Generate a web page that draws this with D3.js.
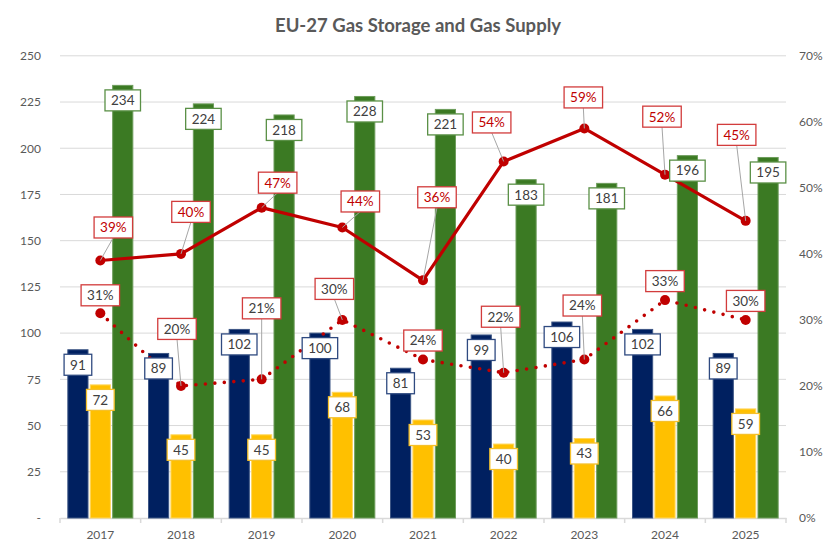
<!DOCTYPE html>
<html>
<head>
<meta charset="utf-8">
<script src="https://cdn.jsdelivr.net/npm/d3@7"></script>
<style>
  body { margin: 0; background: #fff; }
  svg { display: block; font-family: Lato, "Open Sans", sans-serif; }
</style>
</head>
<body>
<div id="chart"></div>
<script>
// values
var years = ["2017","2018","2019","2020","2021","2022","2023","2024","2025"];
var storageBlue = [91, 89, 102, 100, 81, 99, 106, 102, 89];
var storageYellow = [72, 45, 45, 68, 53, 40, 43, 66, 59];
var supplyGreen = [234, 224, 218, 228, 221, 183, 181, 196, 195];
var pctSolid = [39, 40, 47, 44, 36, 54, 59, 52, 45];
var pctDotted = [31, 20, 21, 30, 24, 22, 24, 33, 30];
var leftTicks = [0, 25, 50, 75, 100, 125, 150, 175, 200, 225, 250];
var rightTicks = [0, 10, 20, 30, 40, 50, 60, 70];

// where the % callouts sit relative to their point (layout only)
var solidLabelShift = [[13,-33],[10,-42],[16,-25],[18,-26],[14,-83],[-12,-39],[-1,-31],[-3,-58],[-9,-86]];
var dottedLabelShift = [[0,-18],[-4,-57],[0,-71],[-8,-31],[0,-19],[-3,-56],[-2,-54],[0,-19],[0,-19]];

var width = 829, height = 553;
var plotLeft = 60, plotRight = 786, plotTop = 55.8, plotBottom = 518;

var svg = d3.select("#chart").append("svg")
    .attr("width", width)
    .attr("height", height);

svg.append("text")
    .attr("x", 418).attr("y", 32)
    .attr("text-anchor", "middle")
    .style("font-size", "18.5px").style("font-weight", "bold")
    .style("fill", "#595959")
    .text("EU-27 Gas Storage and Gas Supply");

var x = d3.scaleBand().domain(years).range([plotLeft, plotRight]).paddingInner(0).paddingOuter(0);
var inner = d3.scaleBand().domain([0, 1, 2]).range([-32.5, 32.5]).paddingInner(0.1);
var y = d3.scaleLinear().domain([0, 250]).range([plotBottom, plotTop]);
var yp = d3.scaleLinear().domain([0, 70]).range([plotBottom, plotTop]);

function cx(d, i) { return x(years[i]) + x.bandwidth() / 2; }

// gridlines
svg.append("g").selectAll("line")
    .data(leftTicks.slice(1))
  .enter().append("line")
    .attr("x1", plotLeft).attr("x2", plotRight)
    .attr("y1", function(d) { return y(d); })
    .attr("y2", function(d) { return y(d); })
    .attr("stroke", "#d9d9d9").attr("stroke-width", 1);

// left axis
var gl = svg.append("g")
    .attr("transform", "translate(" + (plotLeft - 16) + ",0)")
    .call(d3.axisLeft(y).tickValues(leftTicks).tickSize(0)
        .tickFormat(function(d) { return d === 0 ? "-" : d; }));
gl.select(".domain").remove();
gl.selectAll("text").style("font-size", "12px").style("fill", "#595959").style("font-family", "Lato, sans-serif");

// right axis
var gr = svg.append("g")
    .attr("transform", "translate(" + (plotRight + 13) + ",0)")
    .call(d3.axisRight(yp).tickValues(rightTicks).tickSize(0)
        .tickFormat(function(d) { return d + "%"; }));
gr.select(".domain").remove();
gr.selectAll("text").attr("x", 0).style("font-size", "12px").style("fill", "#595959").style("font-family", "Lato, sans-serif");

// bottom axis
var gx = svg.append("g")
    .attr("transform", "translate(0," + plotBottom + ")")
    .call(d3.axisBottom(x).tickSize(0).tickPadding(12));
gx.select(".domain").attr("stroke", "#d9d9d9").attr("stroke-width", 1.5);
gx.selectAll("text").style("font-size", "12px").style("fill", "#595959").style("font-family", "Lato, sans-serif");
svg.append("g").selectAll("line")
    .data(years.concat(["end"]))
  .enter().append("line")
    .attr("x1", function(d, i) { return plotLeft + i * x.bandwidth(); })
    .attr("x2", function(d, i) { return plotLeft + i * x.bandwidth(); })
    .attr("y1", plotBottom).attr("y2", plotBottom + 5)
    .attr("stroke", "#d9d9d9").attr("stroke-width", 1.5);

// bars
var series = [
  {vals: storageBlue, fill: "#002060", edge: "#3d5685", boxEdge: "#2f4a80"},
  {vals: storageYellow, fill: "#ffc000", edge: "#ffd75e", boxEdge: "#f5c02a"},
  {vals: supplyGreen, fill: "#3b7a23", edge: "#6e9d5c", boxEdge: "#5a9046"}
];

series.forEach(function(s, k) {
  svg.append("g").selectAll("rect")
      .data(s.vals)
    .enter().append("rect")
      .attr("x", function(d, i) { return cx(d, i) + inner(k); })
      .attr("width", inner.bandwidth())
      .attr("y", function(d) { return y(d); })
      .attr("height", function(d) { return plotBottom - y(d); })
      .attr("fill", s.fill)
      .attr("stroke", s.edge).attr("stroke-width", 1);
});

// lines
var pctLine = d3.line()
    .x(function(d, i) { return cx(d, i); })
    .y(function(d) { return yp(d); });

svg.append("path")
    .datum(pctSolid)
    .attr("d", pctLine)
    .attr("fill", "none").attr("stroke", "#c00000")
    .attr("stroke-width", 3.2).attr("stroke-linejoin", "round");

svg.append("path")
    .datum(pctDotted)
    .attr("d", pctLine)
    .attr("fill", "none").attr("stroke", "#c00000")
    .attr("stroke-width", 3.6).attr("stroke-linecap", "round")
    .attr("stroke-dasharray", "0,9.5");

[pctSolid, pctDotted].forEach(function(arr) {
  svg.append("g").selectAll("circle")
      .data(arr)
    .enter().append("circle")
      .attr("cx", cx)
      .attr("cy", function(d) { return yp(d); })
      .attr("r", 5)
      .attr("fill", "#c00000");
});

// label box helper
function box(g, cxv, cyv, txt, edge, color) {
  var t = g.append("text")
      .attr("x", cxv).attr("y", cyv)
      .attr("text-anchor", "middle").attr("dy", "0.36em")
      .style("font-size", "13.5px").style("fill", color)
      .text(txt);
  var w = t.node().getComputedTextLength() + 12, h = 21;
  g.insert("rect", function() { return t.node(); })
      .attr("x", cxv - w / 2).attr("y", cyv - h / 2)
      .attr("width", w).attr("height", h)
      .attr("fill", "#fff").attr("stroke", edge).attr("stroke-width", 1.3);
}

// bar labels
var lab = svg.append("g");
series.forEach(function(s, k) {
  s.vals.forEach(function(v, i) {
    var bx = cx(v, i) + inner(k) + inner.bandwidth() / 2;
    box(lab.append("g"), bx, y(v) + 15, v, s.boxEdge, "#404040");
  });
});

// percent callouts
function callouts(arr, shifts, color) {
  arr.forEach(function(v, i) {
    var px = cx(v, i), py = yp(v);
    var lx = px + shifts[i][0], ly = py + shifts[i][1];
    var g = svg.append("g");
    if (py - (ly + 10) > 10) {
      g.append("line")
          .attr("x1", px).attr("y1", py)
          .attr("x2", lx).attr("y2", ly + 10)
          .attr("stroke", "#a6a6a6").attr("stroke-width", 1);
    }
    box(g, lx, ly, v + "%", "#d23c3c", color);
  });
}
callouts(pctSolid, solidLabelShift, "#c00000");
callouts(pctDotted, dottedLabelShift, "#404040");
</script>
</body>
</html>
